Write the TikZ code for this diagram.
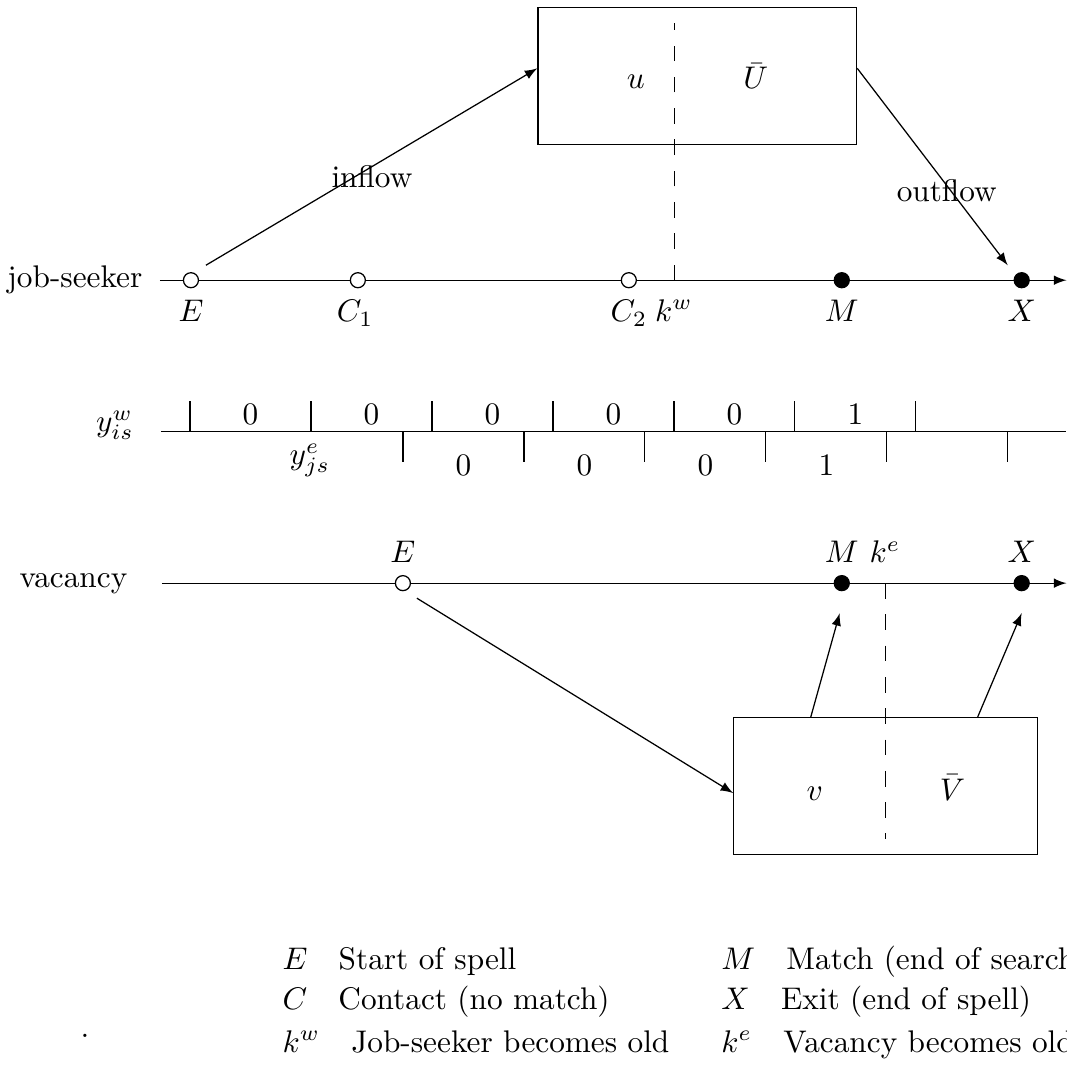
\documentclass[tikz,border=0pt]{standalone}
\usepackage{amsmath,amssymb}
\usetikzlibrary{arrows}

\begin{document}
\begin{tikzpicture}[opendot/.style={circle, draw, fill=white, inner sep=0pt, minimum size=4.8pt},
	fulldot/.style={circle, draw, fill=black, inner sep=0pt, minimum size=4.8pt},
	pool/.style={draw, minimum height=1.54cm},
	flow/.style={-latex},
	cut/.style={dash pattern=on 5pt off 5pt},
	lab/.style={anchor=base},
	side/.style={anchor=base east, inner sep=0pt},
	key/.style={anchor=base west, inner sep=0pt}]
	\useasboundingbox (0,0) rectangle (11.98,12.02);

	% job-seeker line
	\coordinate (js0) at (1.797,8.872);
	\coordinate (js1) at (11.98,8.872);
	\node[side] (jslab) at (1.606,8.793) {job-seeker};
	\draw[-latex] (js0) -- (js1);
	\node[pool, minimum width=3.58cm] (ubox) at (7.833,11.168) {};
	\node[lab] (u) at (7.142,11.02) {$u$};
	\node[lab] (Ubar) at (8.49,11.02) {$\bar{U}$};
	\coordinate (kw) at (7.580,8.872);
	\coordinate (kwtop) at (7.580,11.758);
	\draw[cut] (kw) -- (kwtop);
	\node[opendot] (jE) at (2.145,8.872) {};
	\node[opendot] (jC1) at (4.020,8.872) {};
	\node[opendot] (jC2) at (7.064,8.872) {};
	\node[fulldot] (jM) at (9.456,8.872) {};
	\node[fulldot] (jX) at (11.477,8.872) {};
	\node[lab] (jElab) at (2.145,8.41) {$E$};
	\node[lab] (jC1lab) at (3.99,8.41) {$C_1$};
	\node[lab] (jC2lab) at (7.064,8.41) {$C_2$};
	\node[lab] (kwlab) at (7.57,8.41) {$k^w$};
	\node[lab] (jMlab) at (9.456,8.41) {$M$};
	\node[lab] (jXlab) at (11.477,8.41) {$X$};
	\draw[flow] ([shift={(0.168,0.168)}]jE.center) -- ([yshift=0.084cm]ubox.west);
	\draw[flow] ([yshift=0.084cm]ubox.east) -- ([shift={(-0.157,0.168)}]jX.center);
	\node[lab] (inlab) at (4.178,9.916) {inflow};
	\node[lab] (outlab) at (10.635,9.759) {outflow};

	% indicator strip
	\coordinate (y0) at (1.808,7.176);
	\coordinate (y1) at (11.98,7.176);
	\draw (y0) -- (y1);
	\foreach \i in {0,...,6}
		\draw (2.134+1.359*\i,7.176) -- ++(0,0.337);
	\foreach \i in {0,...,5}
		\draw (4.526+1.359*\i,7.176) -- ++(0,-0.348);
	\foreach \v [count=\i from 0] in {0,0,0,0,0,1}
		\node[lab] (yw\i) at (2.814+1.359*\i,7.25) {$\v$};
	\foreach \v [count=\i from 0] in {0,0,0,1}
		\node[lab] (ye\i) at (5.206+1.359*\i,6.68) {$\v$};
	\node[lab] (ywlab) at (1.291,7.17) {$y^w_{is}$};
	\node[lab] (yelab) at (3.481,6.80) {$y^e_{js}$};

	% vacancy line
	\coordinate (vc0) at (1.819,5.469);
	\coordinate (vc1) at (11.98,5.469);
	\node[side] (vclab) at (1.437,5.424) {vacancy};
	\draw[-latex] (vc0) -- (vc1);
	\node[pool, minimum width=3.414cm] (vbox) at (9.950,3.189) {};
	\node[lab] (v) at (9.152,3.032) {$v$};
	\node[lab] (Vbar) at (10.70,3.032) {$\bar{V}$};
	\coordinate (ke) at (9.950,5.469);
	\coordinate (kebot) at (9.950,2.60);
	\draw[cut] (ke) -- (kebot);
	\node[opendot] (vE) at (4.526,5.469) {};
	\node[fulldot] (vM) at (9.456,5.469) {};
	\node[fulldot] (vX) at (11.477,5.469) {};
	\node[lab] (vElab) at (4.526,5.70) {$E$};
	\node[lab] (vMlab) at (9.456,5.70) {$M$};
	\node[lab] (kelab) at (9.94,5.70) {$k^e$};
	\node[lab] (vXlab) at (11.477,5.70) {$X$};
	\draw[flow] ([shift={(0.157,-0.169)}]vE.center) -- ([yshift=-0.078cm]vbox.west);
	\draw[flow] ([xshift=-0.842cm]vbox.north) -- ([shift={(-0.023,-0.337)}]vM.center);
	\draw[flow] ([xshift=1.033cm]vbox.north) -- ([shift={(0,-0.337)}]vX.center);

	% key
	\node[key] (keyE) at (3.167,1.134) {$E$\quad Start of spell};
	\node[key] (keyC) at (3.167,0.674) {$C$\quad Contact (no match)};
	\node[key] (keykw) at (3.167,0.202) {$k^w$\quad Job-seeker becomes old};
	\node[key] (keyM) at (8.097,1.134) {$M$\quad Match (end of search)};
	\node[key] (keyX) at (8.097,0.674) {$X$\quad Exit (end of spell)};
	\node[key] (keyke) at (8.097,0.202) {$k^e$\quad Vacancy becomes old};
	\node[lab] (dot) at (0.955,0.37) {.};
\end{tikzpicture}
\end{document}
